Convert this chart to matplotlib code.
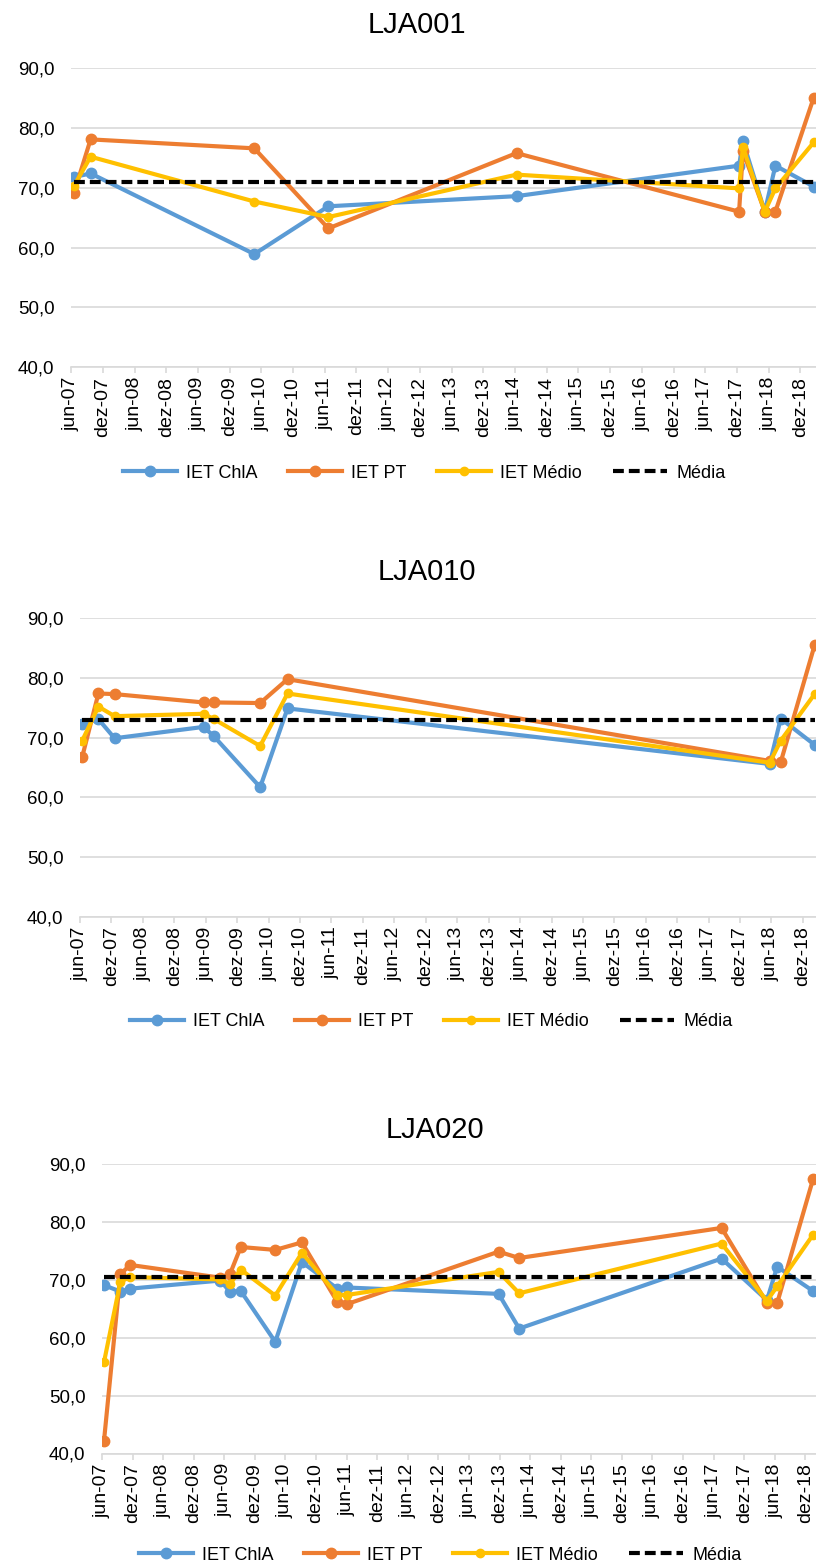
import pandas as pd
import numpy as np
import matplotlib
matplotlib.use("Agg")
import matplotlib.pyplot as plt

plt.rcParams['font.family'] = ['Liberation Sans', 'DejaVu Sans']

# ---- data ----
series_names = ['IET ChlA', 'IET PT', 'IET Médio', 'Média']

tick_dates = pd.date_range('2007-06-01', '2018-12-01', freq='6MS')
tick_labels = ['jun-07', 'dez-07', 'jun-08', 'dez-08', 'jun-09', 'dez-09',
               'jun-10', 'dez-10', 'jun-11', 'dez-11', 'jun-12', 'dez-12',
               'jun-13', 'dez-13', 'jun-14', 'dez-14', 'jun-15', 'dez-15',
               'jun-16', 'dez-16', 'jun-17', 'dez-17', 'jun-18', 'dez-18']

# LJA001
lja001_dates = ['2007-06-18', '2007-09-22', '2010-04-22', '2011-06-22', '2014-06-10',
                '2017-12-13', '2018-01-04', '2018-05-10', '2018-07-10', '2019-02-16']
lja001_chla = [71.8, 72.4, 58.9, 66.9, 68.6, 73.7, 77.8, 66.0, 73.7, 70.2]
lja001_pt = [69.1, 78.1, 76.6, 63.2, 75.8, 66.0, 76.1, 66.0, 66.0, 85.1]
lja001_medio = [70.3, 75.2, 67.7, 65.1, 72.2, 69.9, 76.8, 66.0, 69.9, 77.6]
lja001_media = 70.9

# LJA010
lja010_dates = ['2007-06-14', '2007-09-16', '2007-12-19', '2009-05-19', '2009-07-19',
                '2010-04-13', '2010-09-19', '2018-05-22', '2018-07-25', '2019-02-07']
lja010_chla = [72.3, 73.1, 69.9, 71.8, 70.2, 61.7, 74.9, 65.6, 73.2, 68.8]
lja010_pt = [66.8, 77.4, 77.3, 75.9, 75.9, 75.8, 79.8, 66.1, 65.9, 85.5]
lja010_medio = [69.5, 75.2, 73.6, 74.0, 73.1, 68.6, 77.4, 65.8, 69.5, 77.3]
lja010_media = 73.0

# LJA020
lja020_dates = ['2007-06-13', '2007-09-19', '2007-11-16', '2009-05-07', '2009-07-04',
                '2009-09-07', '2010-04-01', '2010-09-07', '2011-04-07', '2011-06-01',
                '2013-11-25', '2014-03-28', '2017-07-19', '2018-04-16', '2018-06-16',
                '2019-01-16']
lja020_chla = [69.1, 68.0, 68.5, 69.9, 68.0, 68.1, 59.3, 73.1, 68.5, 68.7,
               67.6, 61.6, 73.7, 66.5, 72.3, 68.1]
lja020_pt = [42.2, 71.0, 72.6, 70.4, 71.0, 75.7, 75.2, 76.5, 66.2, 65.8,
             74.9, 73.8, 79.0, 66.0, 66.0, 87.4]
lja020_medio = [55.8, 69.7, 70.5, 70.1, 69.3, 71.8, 67.3, 74.7, 67.4, 67.4,
                71.4, 67.7, 76.3, 66.4, 68.9, 77.8]
lja020_media = 70.6

panels = [
    ('LJA001', lja001_dates, lja001_chla, lja001_pt, lja001_medio, lja001_media),
    ('LJA010', lja010_dates, lja010_chla, lja010_pt, lja010_medio, lja010_media),
    ('LJA020', lja020_dates, lja020_chla, lja020_pt, lja020_medio, lja020_media),
]

# ---- layout (pixels of the 816x1566 image) ----
W, H = 816, 1566
# left, top, bottom of plot area, x-axis end date, title (x, y), legend (x, y)
layout = [
    (71, 68.3, 367, '2019-03-01', (417, 25), (424, 473)),
    (80, 618.3, 916.7, '2019-02-15', (427, 572), (431, 1022)),
    (102, 1164.3, 1453.5, '2019-02-03', (435, 1130), (440, 1555)),
]

colors = ['#5B9BD5', '#ED7D31', '#FFC000']
grid_col = '#D9D9D9'

fig = plt.figure(figsize=(W / 100, H / 100), dpi=100)

for (name, dates, chla, pt, medio, media), (lx, top, bot, xend, tpos, lpos) in zip(panels, layout):
    ax = fig.add_axes([lx / W, 1 - bot / H, (W - lx) / W, (bot - top) / H])
    x = pd.to_datetime(dates)

    ax.plot(x, chla, color=colors[0], lw=3, marker='o', ms=7.5, label=series_names[0])
    ax.plot(x, pt, color=colors[1], lw=3, marker='o', ms=7.5, label=series_names[1])
    ax.plot(x, medio, color=colors[2], lw=3, marker='o', ms=6, label=series_names[2])
    ax.plot(x, [media] * len(x), color='black', lw=3, ls=(0, (2.6, 1.2)),
            label=series_names[3])

    ax.set_ylim(40, 90)
    ax.set_yticks(np.arange(40, 91, 10))
    ax.set_yticklabels([f'{v:.1f}'.replace('.', ',') for v in np.arange(40, 91, 10)])
    ax.set_xlim(pd.Timestamp('2007-06-01'), pd.Timestamp(xend))
    ax.set_xticks(tick_dates)
    ax.set_xticklabels(tick_labels, rotation=90)

    ax.grid(axis='y', color=grid_col, lw=1.2)
    ax.set_axisbelow(True)
    for s in ['top', 'right', 'left']:
        ax.spines[s].set_visible(False)
    ax.spines['bottom'].set_color(grid_col)
    ax.spines['bottom'].set_linewidth(1.2)
    ax.tick_params(axis='y', length=0, pad=12, labelsize=13.5)
    ax.tick_params(axis='x', length=4, width=1.2, color=grid_col, pad=3, labelsize=14)

    fig.text(tpos[0] / W, 1 - tpos[1] / H, name, ha='center', va='center', fontsize=21)

    ax.legend(loc='center', bbox_to_anchor=(lpos[0] / W, 1 - lpos[1] / H),
              bbox_transform=fig.transFigure, ncol=4, frameon=False, fontsize=13,
              handlelength=3.0, handletextpad=0.5, columnspacing=1.7)

fig.savefig('out.png', dpi=100)
